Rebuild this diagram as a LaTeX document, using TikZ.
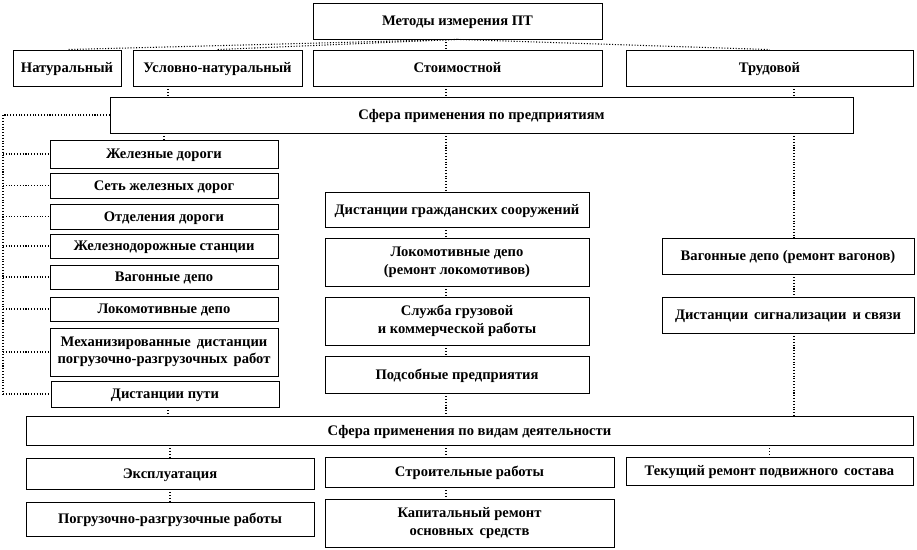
\documentclass[tikz,border=0pt]{standalone}
\usepackage{fontspec}
\setmainfont{Liberation Serif}
\begin{document}
\begin{tikzpicture}[x=0.02cm, y=-0.02cm,
  every node/.style={font=\fontsize{8.3}{10}\selectfont\bfseries},
  box/.style={draw,line width=0.5pt,inner sep=1pt,align=center},
  sbox/.style={box,text height=1.5ex,text depth=0.35ex},
  sz/.style 2 args={minimum width=#1*0.02cm,minimum height=#2*0.02cm},
  link/.style={densely dotted,line width=0.6pt}]
\useasboundingbox (0,0) rectangle (917,550);
\coordinate (lx) at (168,0);
\coordinate (mx) at (446,0);
\coordinate (rx) at (794,0);
\coordinate (trunk) at (3,0);
% methods
\node[sbox,sz={289}{36}] (metody) at (457.5,21) {Методы измерения ПТ};
\node[sbox,sz={108}{36}] (nat) at (67,68) {Натуральный};
\node[sbox,sz={169}{36}] (usl) at (217.5,68) {Условно-натуральный};
\node[sbox,sz={289}{36}] (stoim) at (457.5,68) {Стоимостной};
\node[sbox,sz={287}{36}] (trud) at (769.5,68) {Трудовой};
\node[sbox,sz={743}{36}] (sfera1) at (481.5,115) {Сфера применения по предприятиям};
% left column
\node[sbox,sz={228}{28}] (zd) at (164,154) {Железные дороги};
\node[sbox,sz={228}{25}] (set) at (164,185.5) {Сеть железных дорог};
\node[sbox,sz={228}{25}] (otd) at (164,216.5) {Отделения дороги};
\node[sbox,sz={228}{24}] (stan) at (164,246) {Железнодорожные станции};
\node[sbox,sz={228}{24}] (vag) at (164,277) {Вагонные депо};
\node[sbox,sz={228}{24}] (lok) at (164,309) {Локомотивные депо};
\node[box,sz={228}{48}] (mech) at (164,352) {Механизированные\,\ дистанции\\погрузочно-разгрузочных\,\ работ};
\node[sbox,sz={228}{26}] (dp) at (165,394) {Дистанции пути};
% middle column
\node[sbox,sz={264}{35}] (dgs) at (457,209.5) {Дистанции гражданских сооружений};
\node[box,sz={264}{48}] (lokd) at (457,262) {Локомотивные депо\\(ремонт локомотивов)};
\node[box,sz={264}{48}] (sluz) at (457,321) {Служба грузовой\\и коммерческой работы};
\node[sbox,sz={264}{37}] (pods) at (457,374.5) {Подсобные предприятия};
% right column
\node[sbox,sz={252}{36}] (vagd) at (788,256) {Вагонные депо (ремонт вагонов)};
\node[sbox,sz={252}{36}] (sig) at (788,315) {Дистанции\,\ сигнализации\,\ и связи};
% activities
\node[sbox,sz={887}{29}] (sfera2) at (469.5,430.5) {Сфера применения по видам деятельности};
\node[sbox,sz={288}{31}] (expl) at (170,473.5) {Эксплуатация};
\node[sbox,sz={289}{30}] (stroi) at (469.5,472) {Строительные работы};
\node[sbox,sz={287}{28}] (tek) at (769.5,471) {Текущий ремонт подвижного\,\ состава};
\node[sbox,sz={288}{34}] (pogr) at (170,519) {Погрузочно-разгрузочные работы};
\node[box,sz={289}{48}] (kap) at (469.5,523) {Капитальный ремонт\\основных\,\ средств};
% links
\draw[link] (metody.south) -- (nat.north);
\draw[link] (metody.south) -- (usl.north);
\draw[link] (metody.south -| mx) -- (stoim.north -| mx);
\draw[link] (metody.south) -- (trud.north);
\draw[link] (usl.south -| lx) -- (sfera1.north -| lx);
\draw[link] (stoim.south -| mx) -- (sfera1.north -| mx);
\draw[link] (trud.south -| rx) -- (sfera1.north -| rx);
\draw[link] (sfera1.south -| zd.north) -- (zd.north);
\draw[link] (sfera1.west) -- (sfera1.west -| trunk) -- (dp.west -| trunk);
\foreach \n in {zd,set,otd,stan,vag,lok,mech,dp}
  \draw[link] (\n.west -| trunk) -- (\n.west);
\draw[link] (sfera1.south -| mx) -- (dgs.north -| mx);
\draw[link] (dgs.south -| mx) -- (lokd.north -| mx);
\draw[link] (lokd.south -| mx) -- (sluz.north -| mx);
\draw[link] (sluz.south -| mx) -- (pods.north -| mx);
\draw[link] (pods.south -| mx) -- (sfera2.north -| mx);
\draw[link] (sfera1.south -| rx) -- (vagd.north -| rx);
\draw[link] (vagd.south -| rx) -- (sig.north -| rx);
\draw[link] (sig.south -| rx) -- (sfera2.north -| rx);
\draw[link] (dp.south -| lx) -- (sfera2.north -| lx);
\draw[link] (sfera2.south -| expl.north) -- (expl.north);
\draw[link] (sfera2.south -| mx) -- (stroi.north -| mx);
\draw[link] (sfera2.south -| tek.north) -- (tek.north);
\draw[link] (expl.south) -- (pogr.north);
\draw[link] (stroi.south -| mx) -- (kap.north -| mx);
\end{tikzpicture}
\end{document}
